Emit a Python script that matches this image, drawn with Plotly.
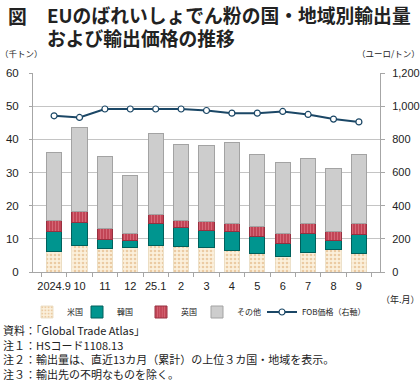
import plotly.graph_objects as go

categories = ["2024.9", "10", "11", "12", "25.1", "2", "3", "4", "5", "6", "7", "8", "9"]
us = [6.2, 8.0, 7.1, 7.5, 7.9, 7.6, 7.3, 6.6, 5.6, 4.6, 5.9, 6.7, 5.5]
korea = [6.0, 7.0, 2.7, 2.1, 6.8, 5.8, 5.1, 5.5, 5.2, 4.1, 5.6, 2.7, 5.7]
uk = [3.3, 3.3, 3.2, 2.1, 2.5, 2.1, 2.7, 2.5, 2.8, 2.9, 3.1, 2.9, 3.4]
other = [20.4, 25.3, 21.9, 17.4, 24.7, 22.9, 23.1, 24.5, 21.8, 21.3, 19.6, 18.9, 20.9]
fob_price = [942, 932, 983, 983, 983, 983, 974, 958, 958, 968, 950, 922, 905]

W, H = 420, 381
L, R, T, B = 33, 380, 73, 272

def px(x):
    return (x - L) / (R - L)

def py(y):
    return (B - y) / (B - T)

JP = "Noto Sans CJK JP"
NUM = "Liberation Sans Narrow, Liberation Sans, Arial, sans-serif"

fig = go.Figure()
fig.add_trace(go.Bar(
    x=categories, y=us, name="米国", legend="legend",
    marker=dict(color="#fbf0dc", line=dict(color="#e9d9bd", width=0.8),
                pattern=dict(shape=".", fgcolor="#dba56a", bgcolor="#fbf0dc", size=4, solidity=0.35)),
))
fig.add_trace(go.Bar(
    x=categories, y=korea, name="韓国", legend="legend2",
    marker=dict(color="#00958f", line=dict(color="#00605c", width=1)),
))
fig.add_trace(go.Bar(
    x=categories, y=uk, name="英国", legend="legend3",
    marker=dict(color="#c24556", line=dict(color="#963040", width=1),
                pattern=dict(shape="|", fgcolor="#e58996", bgcolor="#c24556", size=3, solidity=0.35)),
))
fig.add_trace(go.Bar(
    x=categories, y=other, name="その他", legend="legend4",
    marker=dict(color="#cdcdcd", line=dict(color="#a3a3a3", width=1)),
))
fig.add_trace(go.Scatter(
    x=categories, y=fob_price, name="FOB価格（右軸）", yaxis="y2", legend="legend5",
    mode="lines+markers",
    line=dict(color="#1b4766", width=2),
    marker=dict(symbol="circle", size=6, color="white", line=dict(color="#1b4766", width=1.2)),
))

def legend_at(text_x):
    return dict(orientation="h", xref="container", yref="container",
                x=(text_x - 40) / W, xanchor="left", y=(H - 312) / H, yanchor="middle",
                traceorder="normal", font=dict(family=JP, size=8, color="#222"),
                itemwidth=30, tracegroupgap=0, bgcolor="rgba(0,0,0,0)")

fig.update_layout(
    width=W, height=H,
    margin=dict(l=L, r=W - R, t=T, b=H - B, pad=0, autoexpand=False),
    paper_bgcolor="white", plot_bgcolor="white",
    barmode="stack", bargap=0.4,
    showlegend=True,
    legend=legend_at(67), legend2=legend_at(117), legend3=legend_at(181),
    legend4=legend_at(237), legend5=legend_at(302),
    xaxis=dict(type="category", tickson="boundaries", ticks="outside", ticklen=4,
               tickcolor="#a6a6a6", showline=True, linecolor="#a6a6a6", linewidth=1,
               showgrid=False, tickangle=0, tickfont=dict(family=NUM, size=11, color="#222"),
               ticklabelstandoff=4, automargin=False),
    yaxis=dict(range=[0, 60], dtick=10, showgrid=True, gridcolor="#c4c4c4", gridwidth=1,
               showline=True, linecolor="#a6a6a6", ticks="outside", ticklen=3,
               tickcolor="#a6a6a6", zeroline=False, automargin=False,
               tickfont=dict(family=NUM, size=11.5, color="#222"), ticklabelstandoff=8),
    yaxis2=dict(range=[0, 1200], dtick=200, overlaying="y", side="right", tickformat=",",
                showgrid=False, showline=True, linecolor="#a6a6a6", ticks="outside", ticklen=4,
                tickcolor="#a6a6a6", zeroline=False, automargin=False,
                tickfont=dict(family=NUM, size=11, color="#222"), ticklabelstandoff=5),
)

ann = []
def text(x, y, s, size, family=JP, anchor="left", color="#222", weight="normal"):
    ann.append(dict(x=px(x), y=py(y), xref="paper", yref="paper", text=s, showarrow=False,
                    xanchor=anchor, yanchor="middle", align="left",
                    font=dict(family=family, size=size, color=color, weight=weight)))

text(6, 15, "<span style='font-size:18.8px'>図</span>", 17.5, weight="bold")
text(45, 26, "<span style='font-size:18.8px'>EUのばれいしょでん粉の国・地域別輸出量</span><br>"
             "<span style='font-size:18.8px'>および輸出価格の推移</span>", 17.5, weight="bold")
text(-2, 53, "（千トン）", 8.5)
text(422, 53, "（ユーロ/トン）", 8.5, anchor="right")
text(422, 299, "（年.月）", 9, anchor="right")
notes = ["資料：「Global Trade Atlas」",
         "注１：HSコード1108.13",
         "注２：輸出量は、直近13カ月（累計）の上位３カ国・地域を表示。",
         "注３：輸出先の不明なものを除く。"]
text(1, 351.8, "<br>".join("<span style='font-size:11px'>%s</span>" % n for n in notes), 11.2)
fig.update_layout(annotations=ann)

fig.write_html("out.html", config={"displayModeBar": False},
               post_script="document.body.style.margin='0px';")
